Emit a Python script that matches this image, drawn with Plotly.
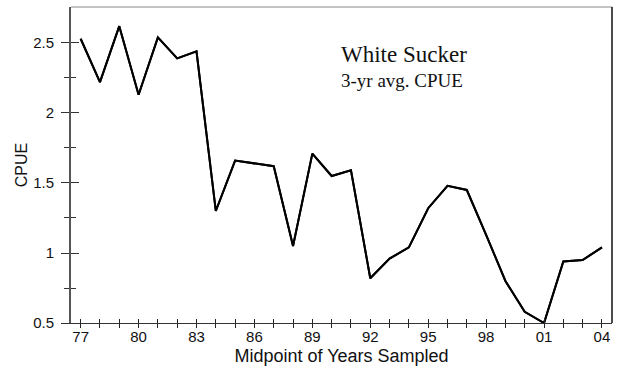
import plotly.graph_objects as go

years = list(range(1977, 2005))
cpue = [2.53, 2.22, 2.62, 2.13, 2.54, 2.39, 2.44, 1.30, 1.66, 1.64, 1.62, 1.05,
        1.71, 1.55, 1.59, 0.82, 0.96, 1.04, 1.32, 1.48, 1.45, 1.13, 0.80, 0.58,
        0.50, 0.94, 0.95, 1.04]
xtick_vals = years
xtick_text = ["77", "", "", "80", "", "", "83", "", "", "86", "", "", "89", "", "",
              "92", "", "", "95", "", "", "98", "", "", "01", "", "", "04"]
ytick_vals = [0.5, 1, 1.5, 2, 2.5]
ytick_text = ["0.5", "1", "1.5", "2", "2.5"]
yminor_vals = [0.75, 1.25, 1.75, 2.25]

title1 = "White Sucker"
title2 = "3-yr avg. CPUE"

xr = [1976.5, 2004.52]
yr = [0.5, 2.757]

fig = go.Figure()
fig.add_trace(go.Scatter(x=years, y=cpue, mode="lines",
                         line=dict(color="black", width=2), hoverinfo="skip",
                         showlegend=False))
fig.add_trace(go.Scatter(x=years, y=cpue, mode="lines", xaxis="x2", yaxis="y2",
                         line=dict(color="black", width=2), hoverinfo="skip",
                         showlegend=False))

axfont = dict(family="Liberation Sans", size=15, color="#111")

fig.update_layout(
    width=619, height=366,
    margin=dict(l=71, r=7, t=7, b=43, autoexpand=False),
    paper_bgcolor="white", plot_bgcolor="white",
    font=axfont,
    xaxis=dict(range=xr, tickmode="array", tickvals=xtick_vals, ticktext=xtick_text,
               ticks="outside", ticklen=4, tickwidth=1, tickcolor="#222",
               showline=True, linecolor="#333", linewidth=1, showgrid=False,
               zeroline=False, tickfont=axfont, ticklabelstandoff=-4, automargin=False,
               title=dict(text="Midpoint of Years Sampled",
                          font=dict(family="Liberation Sans", size=18, color="#111"),
                          standoff=7)),
    xaxis2=dict(range=xr, overlaying="x", anchor="y", side="bottom",
                tickmode="array", tickvals=xtick_vals, showticklabels=False,
                ticks="inside", ticklen=4, tickwidth=1, tickcolor="#222", automargin=False,
                showline=False, showgrid=False, zeroline=False),
    yaxis=dict(range=yr, tickmode="array", tickvals=ytick_vals, ticktext=ytick_text,
               ticks="outside", ticklen=8, tickwidth=1, tickcolor="#333",
               minor=dict(tickmode="array", tickvals=yminor_vals, ticks="outside",
                          ticklen=5, tickwidth=1, tickcolor="#333", showgrid=False),
               showline=True, linecolor="#555", linewidth=2, showgrid=False,
               zeroline=False, tickfont=axfont, ticklabelstandoff=4, automargin=False,
               title=dict(text="CPUE",
                          font=dict(family="Liberation Sans", size=16, color="#111"),
                          standoff=2)),
    yaxis2=dict(range=yr, overlaying="y", anchor="x", side="left",
                tickmode="array", tickvals=ytick_vals, showticklabels=False,
                ticks="inside", ticklen=8, tickwidth=1, tickcolor="#333", automargin=False,
                minor=dict(tickmode="array", tickvals=yminor_vals, ticks="inside",
                           ticklen=5, tickwidth=1, tickcolor="#333", showgrid=False),
                showline=False, showgrid=False, zeroline=False),
    shapes=[
        dict(type="line", xref="paper", yref="paper", x0=0, x1=1, y0=1, y1=1,
             line=dict(color="#888", width=1)),
        dict(type="line", xref="paper", yref="paper", x0=1, x1=1, y0=0, y1=1,
             line=dict(color="#111", width=1.5)),
    ],
    annotations=[
        dict(text=title1, xref="paper", yref="paper", x=0.496, y=0.851,
             xanchor="left", yanchor="middle", showarrow=False,
             font=dict(family="Liberation Serif", size=23, color="#111")),
        dict(text=title2, xref="paper", yref="paper", x=0.496, y=0.767,
             xanchor="left", yanchor="middle", showarrow=False,
             font=dict(family="Liberation Serif", size=19, color="#111")),
    ],
)

fig.write_html("out.html", config={"displayModeBar": False},
               post_script="document.body.style.margin='0';document.body.style.overflow='hidden';")
